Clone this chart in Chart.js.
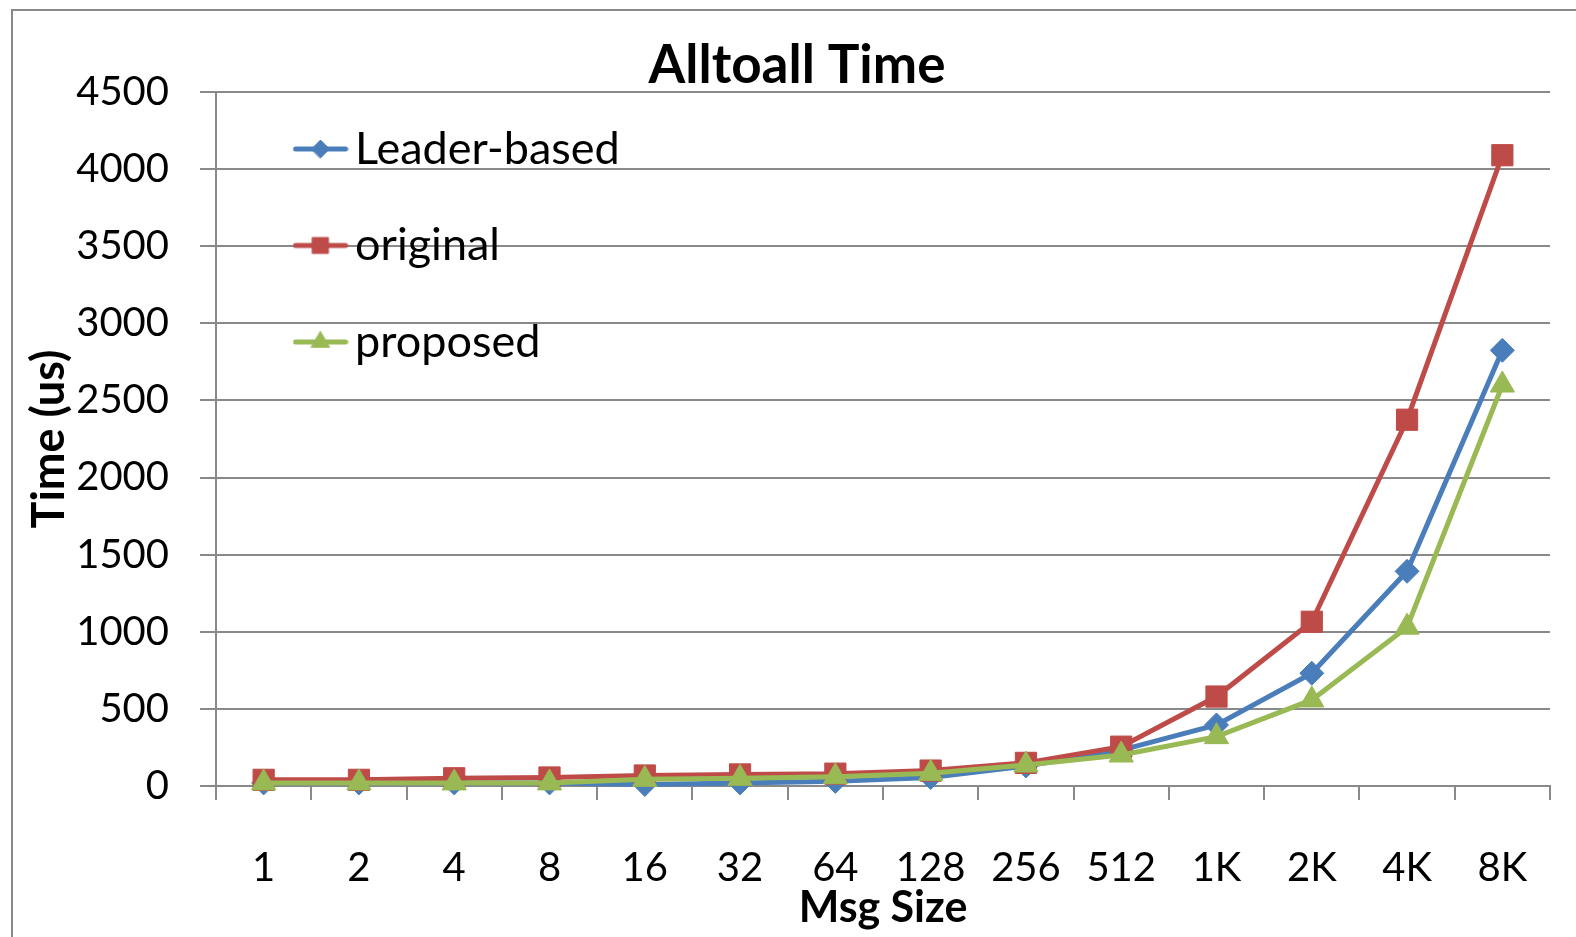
<!DOCTYPE html>
<html>
<head>
<meta charset="utf-8">
<title>Alltoall Time</title>
<script src="https://cdn.jsdelivr.net/npm/chart.js@4.4.1/dist/chart.umd.min.js"></script>
<style>
  html, body { margin: 0; padding: 0; background: #ffffff; overflow: hidden; }
  #wrap { position: relative; width: 1576px; height: 937px; }
  #frame {
    position: absolute; left: 11px; top: 9px; right: -20px; bottom: -20px;
    border-left: 2px solid #898989; border-top: 2px solid #898989;
    pointer-events: none;
  }
  canvas { position: absolute; left: 0; top: 0; }
</style>
</head>
<body>
<div id="wrap">
  <canvas id="chart" width="1576" height="937"></canvas>
  <div id="frame"></div>
</div>
<script>
// Message sizes on the x axis
const msgSizes = ['1', '2', '4', '8', '16', '32', '64', '128', '256', '512', '1K', '2K', '4K', '8K'];

// Alltoall time in microseconds for each implementation
const leaderBased = [20, 20, 20, 20, 10, 20, 30, 55, 130, 233, 396, 731, 1392, 2825];
const original    = [40, 40, 50, 55, 68, 75, 80, 100, 150, 255, 580, 1065, 2375, 4090];
const proposed    = [20, 20, 20, 20, 43, 50, 60, 82, 136, 201, 320, 558, 1030, 2600];

// Y axis range
const yMin = 0;
const yMax = 4500;
const yStep = 500;

const FONT = 'Lato, "Open Sans", "DejaVu Sans", sans-serif';
const GRID = '#898989';

const seriesStyle = [
  { label: 'Leader-based', data: leaderBased, color: '#4A7EBB', point: 'rectRot',  radius: 12, order: 3 },
  { label: 'original',     data: original,    color: '#BE4B48', point: 'rect',     radius: 15, order: 2 },
  { label: 'proposed',     data: proposed,    color: '#98B954', point: 'triangle', radius: 14, order: 1 }
];

// Legend swatch: a short line with the series marker in the middle
function legendSwatch(s) {
  const c = document.createElement('canvas');
  c.width = 56; c.height = 26;
  const ctx = c.getContext('2d');
  ctx.strokeStyle = s.color;
  ctx.lineWidth = 5;
  ctx.lineCap = 'round';
  ctx.beginPath();
  ctx.moveTo(3, 13); ctx.lineTo(53, 13);
  ctx.stroke();
  ctx.fillStyle = s.color;
  ctx.strokeStyle = s.color;
  ctx.lineWidth = 1;
  Chart.helpers.drawPoint(ctx, { pointStyle: s.point, radius: s.radius * 0.75, borderWidth: 1 }, 28, 13);
  return c;
}
const swatches = seriesStyle.map(legendSwatch);

// Places the title and the in-plot legend
const placement = {
  id: 'placement',
  afterLayout(chart) {
    const t = chart.titleBlock;
    if (t) {
      const dx = 797 - (t.left + t.right) / 2;
      t.left += dx; t.right += dx;
    }
    const lg = chart.legend;
    if (lg) {
      const dx = 257 - lg.left, dy = 75 - lg.top;
      lg.left += dx; lg.right += dx;
      lg.top += dy; lg.bottom += dy;
    }
  }
};

new Chart(document.getElementById('chart'), {
  type: 'line',
  data: {
    labels: msgSizes,
    datasets: seriesStyle.map(s => ({
      label: s.label,
      data: s.data,
      order: s.order,
      borderColor: s.color,
      backgroundColor: s.color,
      borderWidth: 5,
      tension: 0,
      pointStyle: s.point,
      pointRadius: s.radius,
      pointHoverRadius: s.radius,
      pointBackgroundColor: s.color,
      pointBorderColor: s.color,
      pointBorderWidth: 1,
      clip: false
    }))
  },
  options: {
    responsive: false,
    devicePixelRatio: 1,
    animation: false,
    events: [],
    layout: { padding: { left: 0, right: 26, top: 0, bottom: 0 } },
    plugins: {
      tooltip: { enabled: false },
      title: {
        display: true,
        text: 'Alltoall Time',
        color: '#000',
        font: { family: FONT, size: 53, weight: 'bold', lineHeight: 1 },
        padding: { top: 39, bottom: 0 }
      },
      legend: {
        display: true,
        position: 'chartArea',
        align: 'start',
        labels: {
          color: '#000',
          font: { family: FONT, size: 45 },
          usePointStyle: true,
          pointStyleWidth: 24,
          padding: 51.5,
          generateLabels(chart) {
            const items = Chart.defaults.plugins.legend.labels.generateLabels(chart);
            items.sort((a, b) => a.datasetIndex - b.datasetIndex);
            items.forEach(it => { it.pointStyle = swatches[it.datasetIndex]; it.lineWidth = 0; });
            return items;
          }
        }
      }
    },
    scales: {
      x: {
        type: 'category',
        offset: true,
        grid: {
          offset: true,
          drawOnChartArea: false,
          drawTicks: true,
          tickLength: 14,
          color: GRID,
          lineWidth: 2
        },
        border: { display: true, color: GRID, width: 2 },
        ticks: {
          color: '#000',
          font: { family: FONT, size: 40 },
          padding: 44,
          maxRotation: 0,
          autoSkip: false
        },
        title: {
          display: true,
          text: 'Msg Size',
          color: '#000',
          font: { family: FONT, size: 43, weight: 'bold', lineHeight: 1 },
          padding: { top: 0, bottom: 7 }
        },
        afterFit(scale) { scale.height = 151; }
      },
      y: {
        min: yMin,
        max: yMax,
        ticks: {
          stepSize: yStep,
          color: '#000',
          font: { family: FONT, size: 40 },
          padding: 31,
          callback: v => String(v)
        },
        grid: {
          color: GRID,
          lineWidth: 2,
          drawTicks: true,
          tickLength: 16
        },
        border: { display: true, color: GRID, width: 2 },
        title: {
          display: true,
          text: 'Time (us)',
          color: '#000',
          font: { family: FONT, size: 45, weight: 'bold', lineHeight: 1 },
          padding: { top: 27, bottom: 0 }
        },
        afterFit(scale) { scale.width = 216; }
      }
    }
  },
  plugins: [placement]
});
</script>
</body>
</html>
